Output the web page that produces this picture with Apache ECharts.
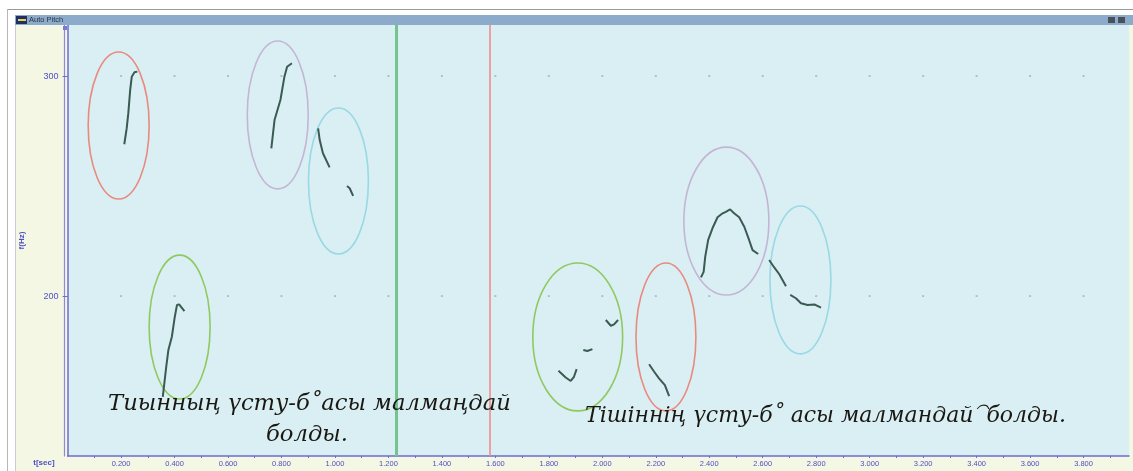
<!DOCTYPE html>
<html>
<head>
<meta charset="utf-8">
<title>Auto Pitch</title>
<script src="https://cdn.jsdelivr.net/npm/echarts@6.0.0/dist/echarts.min.js"></script>
<style>
  html, body { margin: 0; padding: 0; background: #ffffff; }
  #chart { width: 1133px; height: 471px; }
</style>
</head>
<body>
<div id="chart"></div>
<script>
// Time axis (seconds) and pitch axis (Hz)
const timeMin = 0;
const timeMax = 3.97;
const pitchMin = 127.3;
const pitchMax = 323.2;
const timeLabelValues = [0.2, 0.4, 0.6, 0.8, 1.0, 1.2, 1.4, 1.6, 1.8, 2.0, 2.2, 2.4, 2.6, 2.8, 3.0, 3.2, 3.4, 3.6, 3.8];
const timeTickValues = [0.1, 0.2, 0.3, 0.4, 0.5, 0.6, 0.7, 0.8, 0.9, 1.0, 1.1, 1.2, 1.3, 1.4, 1.5, 1.6, 1.7, 1.8, 1.9, 2.0,
  2.1, 2.2, 2.3, 2.4, 2.5, 2.6, 2.7, 2.8, 2.9, 3.0, 3.1, 3.2, 3.3, 3.4, 3.5, 3.6, 3.7, 3.8, 3.9];
const pitchLabelValues = [200, 300];

// Pitch contour segments: [time s, f0 Hz]
const contourA = [[0.212, 269.0], [0.221, 276.2], [0.227, 283.0], [0.234, 293.6], [0.240, 299.7], [0.250, 301.7], [0.261, 302.0]];
const contourB = [[0.356, 154.2], [0.369, 167.9], [0.377, 175.5], [0.390, 181.5], [0.400, 189.9], [0.409, 195.9], [0.417, 196.2], [0.437, 193.2]];
const contourC = [[0.762, 267.1], [0.774, 280.0], [0.796, 289.1], [0.811, 299.7], [0.821, 304.2], [0.839, 305.8]];
const contourD1 = [[0.937, 276.2], [0.943, 270.9], [0.955, 264.9], [0.980, 258.5]];
const contourD2 = [[1.045, 250.0], [1.055, 249.0], [1.068, 245.5]];
const contourE1 = [[1.836, 166.0], [1.863, 163.0], [1.882, 161.4], [1.894, 163.3], [1.904, 166.8]];
const contourE2 = [[1.929, 175.5], [1.944, 175.0], [1.963, 175.9]];
const contourE3 = [[2.013, 189.1], [2.032, 186.5], [2.044, 187.1], [2.059, 189.1]];
const contourF = [[2.175, 169.0], [2.194, 165.6], [2.212, 162.6], [2.234, 159.5], [2.250, 154.5]];
const contourG = [[2.369, 208.5], [2.379, 211.0], [2.385, 217.9], [2.396, 225.5], [2.412, 230.8], [2.431, 235.8], [2.450, 237.6],
  [2.462, 238.3], [2.478, 239.4], [2.493, 237.6], [2.512, 235.8], [2.531, 231.5], [2.549, 225.5], [2.562, 220.9], [2.583, 219.1]];
const contourH1 = [[2.624, 216.4], [2.643, 213.0], [2.662, 209.9], [2.687, 204.5]];
const contourH2 = [[2.703, 200.5], [2.724, 199.0], [2.743, 196.7], [2.768, 195.9], [2.793, 196.2], [2.818, 194.7]];
const contours = [contourA, contourB, contourC, contourD1, contourD2, contourE1, contourE2, contourE3, contourF, contourG, contourH1, contourH2];

// Highlighted syllable regions: centre (s, Hz), half-width (s), half-height (Hz)
const regionTime = [0.191, 0.419, 0.786, 1.013, 1.908, 2.238, 2.464, 2.741];
const regionPitch = [277.5, 185.9, 282.3, 252.3, 181.4, 181.4, 234.1, 207.3];
const regionHalfTime = [0.114, 0.114, 0.114, 0.112, 0.168, 0.112, 0.159, 0.114];
const regionHalfPitch = [33.4, 32.7, 33.6, 33.2, 33.6, 33.6, 33.6, 33.6];
const regionColors = ['#e98a7f', '#8fc95f', '#c4b5d6', '#98d9e4', '#8fc95f', '#e98a7f', '#c4b5d6', '#98d9e4'];

// Cursor positions (s)
const cursorGreen = 1.23;
const cursorRed = 1.578;

// Transcription captions
const captionFirst = ['Тиынның үсту-б˚асы малмаңдай', 'болды.'];
const captionSecond = 'Тiшiннiң үсту-б˚ асы малмандай⁀болды.';

const gridDots = [];
timeLabelValues.forEach(t => pitchLabelValues.forEach(f => gridDots.push([t, f])));

const regionData = regionTime.map((t, i) => [t, regionPitch[i], regionHalfTime[i], regionHalfPitch[i], i]);

const axisBlue = '#6c6cd0';
const labelBlue = '#4f4fc4';
const contourColor = '#3a5a52';

const chart = echarts.init(document.getElementById('chart'), null, { renderer: 'canvas' });

const series = [
  {
    type: 'scatter',
    data: gridDots,
    symbol: 'rect',
    symbolSize: [2, 1.5],
    itemStyle: { color: '#8fa3ad' },
    silent: true,
    z: 1
  },
  {
    type: 'custom',
    data: regionData,
    silent: true,
    z: 2,
    renderItem: function (params, api) {
      const c = api.coord([api.value(0), api.value(1)]);
      const s = api.size([api.value(2), api.value(3)]);
      return {
        type: 'ellipse',
        shape: { cx: c[0], cy: c[1], rx: s[0], ry: s[1] },
        style: { fill: 'none', stroke: regionColors[api.value(4)], lineWidth: 1.6 }
      };
    }
  },
  {
    type: 'line',
    data: [],
    silent: true,
    z: 3,
    markLine: {
      silent: true,
      symbol: ['none', 'none'],
      label: { show: false },
      animation: false,
      data: [
        { xAxis: cursorGreen, lineStyle: { color: '#74c48c', width: 3, type: 'solid' } },
        { xAxis: cursorRed, lineStyle: { color: '#f08c8c', width: 1.6, type: 'solid' } }
      ]
    }
  }
];

contours.forEach(seg => {
  series.push({
    type: 'line',
    data: seg,
    showSymbol: false,
    smooth: false,
    silent: true,
    z: 4,
    lineStyle: { color: contourColor, width: 2 }
  });
});

const option = {
  animation: false,
  backgroundColor: '#f4f7e4',
  grid: {
    left: 67.6,
    right: 4,
    top: 25,
    bottom: 15,
    show: true,
    backgroundColor: '#daeff4',
    borderWidth: 0
  },
  xAxis: {
    type: 'value',
    min: timeMin,
    max: timeMax,
    name: 't[sec]',
    nameLocation: 'start',
    nameGap: 13,
    nameTextStyle: { color: labelBlue, fontSize: 8, fontWeight: 'bold', fontFamily: 'Liberation Sans', verticalAlign: 'top', padding: [3, 0, 0, 0] },
    axisLine: { show: true, lineStyle: { color: axisBlue, width: 1.5 } },
    axisTick: { show: true, length: 2, lineStyle: { color: axisBlue, width: 1 }, customValues: timeTickValues },
    axisLabel: {
      color: labelBlue, fontSize: 7.5, fontFamily: 'Liberation Sans', margin: 4,
      customValues: timeLabelValues,
      formatter: v => v.toFixed(3)
    },
    splitLine: { show: false }
  },
  yAxis: [
    {
      type: 'value',
      min: pitchMin,
      max: pitchMax,
      name: 'f(Hz)',
      nameLocation: 'middle',
      nameRotate: 90,
      nameGap: 42,
      nameTextStyle: { color: labelBlue, fontSize: 8, fontWeight: 'bold', fontFamily: 'Liberation Sans' },
      axisLine: { show: true, lineStyle: { color: axisBlue, width: 1.5 } },
      axisTick: { show: true, length: 5, lineStyle: { color: axisBlue }, customValues: pitchLabelValues },
      axisLabel: { color: labelBlue, fontSize: 9, fontFamily: 'Liberation Sans', margin: 9, customValues: pitchLabelValues },
      splitLine: { show: false }
    },
    {
      type: 'value',
      min: pitchMin,
      max: pitchMax,
      position: 'left',
      offset: 3.5,
      axisLine: { show: true, lineStyle: { color: '#8a8ad8', width: 1.2 } },
      axisTick: { show: false },
      axisLabel: { show: false },
      splitLine: { show: false }
    }
  ],
  series: series,
  graphic: [
    // window frame
    { type: 'rect', left: 0, top: 0, shape: { width: 1133, height: 15 }, style: { fill: '#ffffff' }, z: 10, silent: true },
    { type: 'rect', left: 0, top: 0, shape: { width: 15.5, height: 471 }, style: { fill: '#ffffff' }, z: 10, silent: true },
    { type: 'rect', left: 7, top: 9, shape: { width: 1126, height: 1 }, style: { fill: '#9a9a9a' }, z: 11, silent: true },
    { type: 'rect', left: 7, top: 9, shape: { width: 1, height: 462 }, style: { fill: '#b8b8b8' }, z: 11, silent: true },
    { type: 'rect', left: 15, top: 15, shape: { width: 1, height: 456 }, style: { fill: '#c8ccd4' }, z: 11, silent: true },
    // title bar
    { type: 'rect', left: 15, top: 15, shape: { width: 1118, height: 10 }, style: { fill: '#8cabcb' }, z: 11, silent: true },
    { type: 'rect', left: 16, top: 16, shape: { width: 11, height: 8 }, style: { fill: '#1f2f6a' }, z: 12, silent: true },
    { type: 'rect', left: 18, top: 19, shape: { width: 8, height: 2 }, style: { fill: '#e8d640' }, z: 13, silent: true },
    { type: 'text', left: 29, top: 16, style: { text: 'Auto Pitch', fill: '#2c3440', font: '7.5px "Liberation Sans"' }, z: 12, silent: true },
    { type: 'rect', left: 1108, top: 17, shape: { width: 7, height: 6 }, style: { fill: '#4a4f58' }, z: 12, silent: true },
    { type: 'rect', left: 1118, top: 17, shape: { width: 7, height: 6 }, style: { fill: '#4a4f58' }, z: 12, silent: true },
    // y axis top marker
    { type: 'rect', left: 63, top: 26, shape: { width: 4, height: 4 }, style: { fill: '#7a7ad4' }, z: 12, silent: true },
    // captions
    { type: 'text', left: 108, top: 393, style: { text: captionFirst[0], fill: '#1a1812', font: 'italic 22.7px "DejaVu Serif"' }, z: 20, silent: true },
    { type: 'text', left: 266, top: 424, style: { text: captionFirst[1], fill: '#1a1812', font: 'italic 22.7px "DejaVu Serif"' }, z: 20, silent: true },
    { type: 'text', left: 585, top: 405, style: { text: captionSecond, fill: '#1a1812', font: 'italic 22px "DejaVu Serif"' }, z: 20, silent: true }
  ]
};

chart.setOption(option);
</script>
</body>
</html>
